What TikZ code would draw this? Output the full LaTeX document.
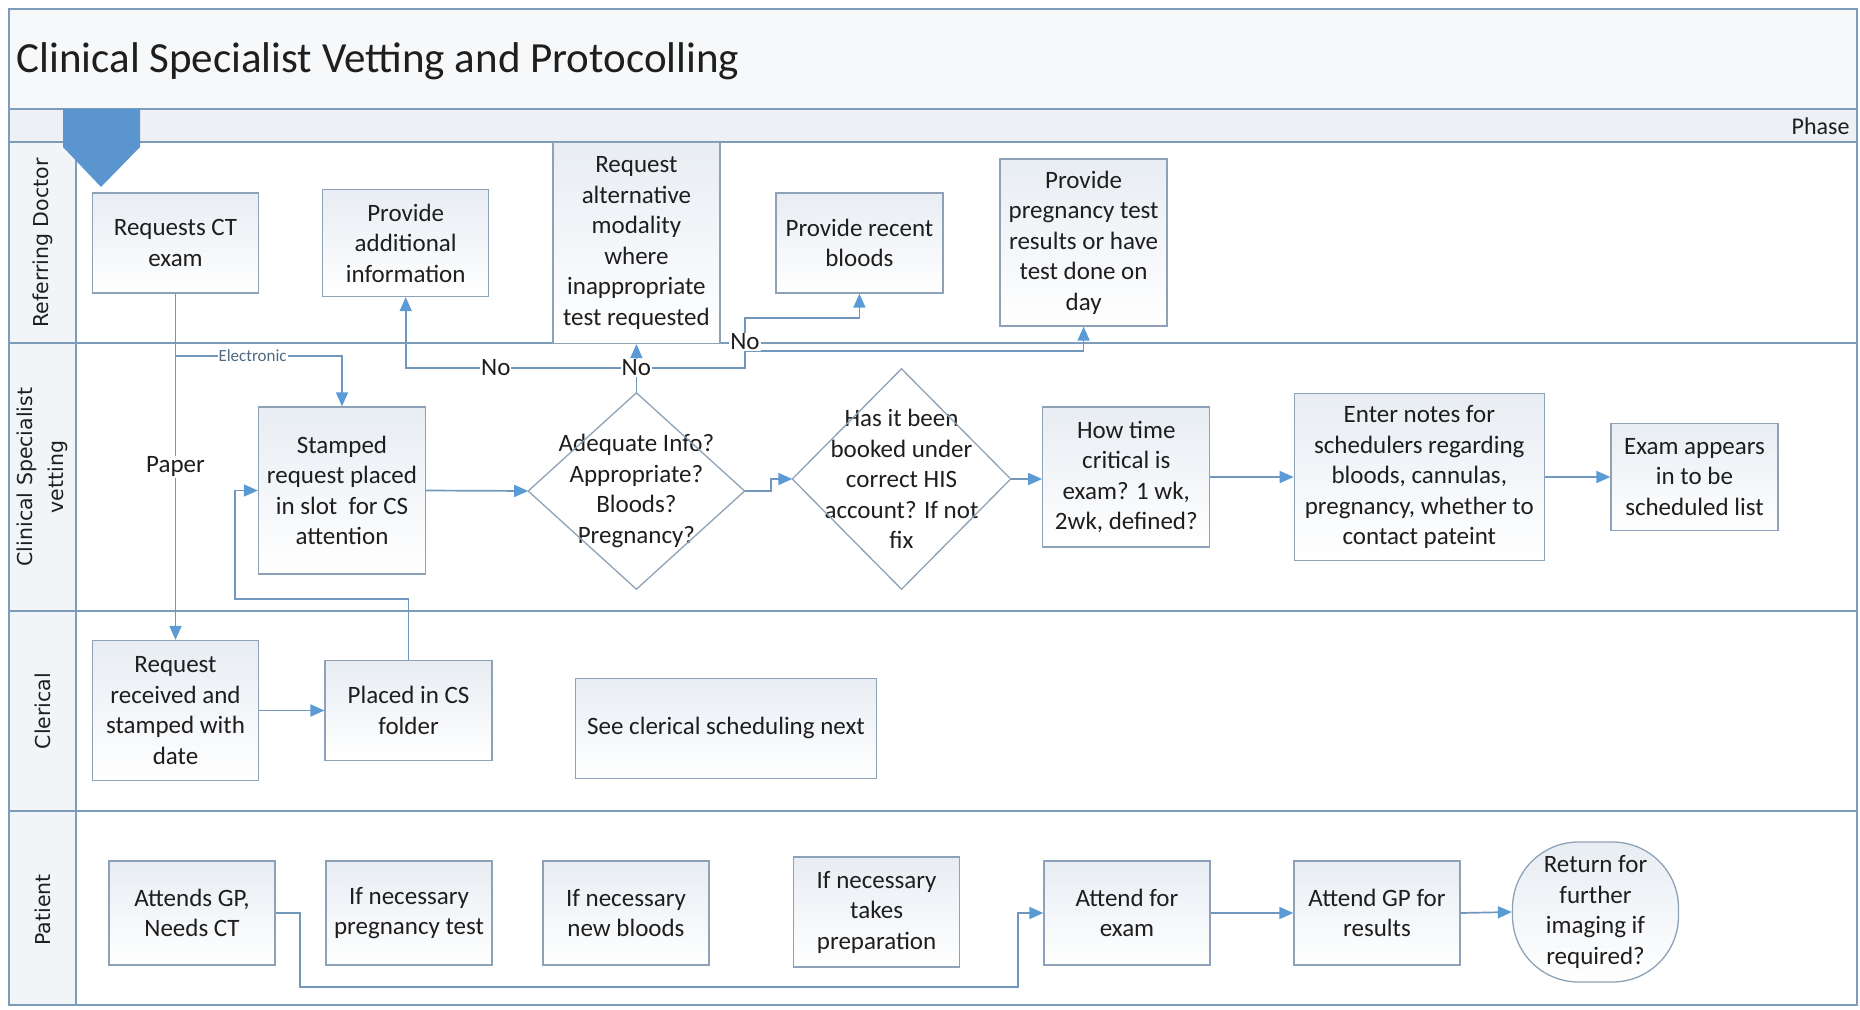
\documentclass[tikz,border=0pt]{standalone}
\usepackage{fontspec}
\setmainfont{Carlito}
\newfontfamily\lanefont{DejaVu Sans}
\usetikzlibrary{arrows.meta,shapes.geometric}

\definecolor{laneline}{HTML}{7D9BBA}
\definecolor{boxline}{HTML}{8DA2B7}
\definecolor{conn}{HTML}{7197BC}
\definecolor{arrowblue}{HTML}{5B9BD5}
\definecolor{marker}{HTML}{5B95D0}
\definecolor{titlefill}{HTML}{F6F8FA}
\definecolor{phasefill}{HTML}{EDF1F5}
\definecolor{labelfill}{HTML}{F2F5F8}
\definecolor{boxtop}{HTML}{E8EDF3}
\definecolor{txt}{HTML}{1E1E1E}

\begin{document}
\begin{tikzpicture}[x=1pt,y=-1pt,
  box/.style={draw=boxline, line width=1.3pt, top color=boxtop, bottom color=white,
    text=txt, align=center, inner sep=2pt, font=\fontsize{25}{30.5}\selectfont},
  dtext/.style={inner sep=0pt, text=txt, align=center, font=\fontsize{25}{30.5}\selectfont},
  diam/.style={draw=boxline, line width=1.3pt},
  lane/.style={draw=laneline, line width=2.2pt},
  line/.style={draw=conn, line width=1.7pt},
  conn/.style={draw=conn, line width=1.7pt, -{Triangle[length=14pt,width=12pt,color=arrowblue]}},
  lbl/.style={fill=white, inner sep=1pt, text=txt, font=\fontsize{25}{30}\selectfont},
  elbl/.style={fill=white, inner sep=1pt, text=conn!70!black, font=\fontsize{17}{20}\selectfont},
  lanelab/.style={rotate=90, text=txt, align=center, font=\lanefont\fontsize{20.5}{31}\selectfont}
]
\useasboundingbox (0,0) rectangle (1860,1009);

% pool background and lane frame
\fill[titlefill] (9,9) rectangle (1857,109);
\fill[phasefill] (9,109) rectangle (1857,142);
\fill[labelfill] (9,142) rectangle (76,1005);
\draw[lane] (9,109) -- (1857,109);
\draw[lane] (9,142) -- (1857,142);
\draw[lane] (9,343) -- (1857,343);
\draw[lane] (9,611) -- (1857,611);
\draw[lane] (9,811) -- (1857,811);
\draw[lane] (76,142) -- (76,1005);
\draw[lane] (9,9) rectangle (1857,1005);

\node[anchor=west, text=txt, font=\fontsize{43}{50}\selectfont] (title) at (13,61)
  {Clinical Specialist Vetting and Protocolling};
\node[anchor=east, text=txt, font=\fontsize{24}{28}\selectfont] (phase) at (1853,126) {Phase};

% phase marker
\fill[marker] (63,109) -- (140,109) -- (140,147) -- (101,187) -- (63,147) -- cycle;

% lane titles
\node[lanelab] (lref) at (42.5,243) {Referring Doctor};
\node[lanelab] (lcs) at (42.5,477) {Clinical Specialist\\vetting};
\node[lanelab] (lcler) at (42.5,711) {Clerical};
\node[lanelab] (lpat) at (42.5,910) {Patient};

% Referring Doctor lane
\node[box, minimum width=166pt, minimum height=100pt] (reqct) at (175.5,243) {Requests CT\\exam};
\node[box, minimum width=166pt, minimum height=107pt] (addinfo) at (405.7,243) {Provide\\additional\\information};
\node[box, minimum width=167pt, minimum height=201pt] (altmod) at (636.4,243) {Request\\alternative\\modality\\where\\inappropriate\\test requested};
\node[box, minimum width=167pt, minimum height=100pt] (bloods) at (859.4,243) {Provide recent\\bloods};
\node[box, minimum width=167pt, minimum height=167pt] (pregres) at (1083.6,242.5) {Provide\\pregnancy test\\results or have\\test done on\\day};

% Clinical Specialist lane
\node[box, minimum width=167pt, minimum height=167pt] (stamped) at (342,490.5) {Stamped\\request placed\\in slot\ \ for CS\\attention};
\node[dtext, minimum width=216pt, minimum height=196pt] (d1) at (636.4,491) {Adequate Info?\\Appropriate?\\Bloods?\\Pregnancy?};
\draw[diam] (d1.north) -- (d1.east) -- (d1.south) -- (d1.west) -- cycle;
\node[dtext, minimum width=218pt, minimum height=220pt] (d2) at (901.5,479) {Has it been\\booked under\\correct HIS\\account? If not\\fix};
\draw[diam] (d2.north) -- (d2.east) -- (d2.south) -- (d2.west) -- cycle;
\node[box, minimum width=167pt, minimum height=140pt] (howtime) at (1126.3,477) {How time\\critical is\\exam? 1 wk,\\2wk, defined?};
\node[box, minimum width=250pt, minimum height=167pt] (notes) at (1419.3,477) {Enter notes for\\schedulers regarding\\bloods, cannulas,\\pregnancy, whether to\\contact pateint};
\node[box, minimum width=167pt, minimum height=107pt] (examlist) at (1694.5,477) {Exam appears\\in to be\\scheduled list};

% Clerical lane
\node[box, minimum width=166pt, minimum height=140pt] (recv) at (175.5,710.5) {Request\\received and\\stamped with\\date};
\node[box, minimum width=167pt, minimum height=100pt] (csfolder) at (408.6,710.5) {Placed in CS\\folder};
\node[box, minimum width=301pt, minimum height=100pt] (seecler) at (726,728.3) {See clerical scheduling next};

% Patient lane
\node[box, minimum width=166pt, minimum height=104pt] (attgp) at (192,913) {Attends GP,\\Needs CT};
\node[box, minimum width=166pt, minimum height=104pt] (preg) at (409,913) {If necessary\\pregnancy test};
\node[box, minimum width=166pt, minimum height=104pt] (newbl) at (626,913) {If necessary\\new bloods};
\node[box, minimum width=166pt, minimum height=110pt] (prep) at (876.6,912) {If necessary\\takes\\preparation};
\node[box, minimum width=166pt, minimum height=104pt] (attexam) at (1127,913) {Attend for\\exam};
\node[box, minimum width=166pt, minimum height=104pt] (attres) at (1377,913) {Attend GP for\\results};
\node[box, rounded corners=66pt, minimum width=166pt, minimum height=140pt] (ret) at (1595.5,912) {Return for\\further\\imaging if\\required?};

% routing points
\coordinate (ebr) at (175.5,356);
\coordinate (loopA) at (408.6,599);
\coordinate (loopB) at (235,599);
\coordinate (jog) at (771,491);
\coordinate (ntop) at (636.4,367.7);
\coordinate (nA) at (745,367.7);
\coordinate (nB) at (745,318);
\coordinate (nC) at (745,351);
\coordinate (pA) at (300,913);
\coordinate (pB) at (300,987);
\coordinate (pC) at (1018,987);

% connectors
\draw[conn] (reqct.south) -- (recv.north) node[midway, lbl] (paper) {Paper};
\draw[conn] (ebr) -| (stamped.north);
\node[elbl] (elec) at (252.6,356) {Electronic};
\draw[conn] (recv.east) -- (csfolder.west);
\draw[conn] (csfolder.north) -- (loopA) -- (loopB) |- (stamped.west);
\draw[conn] (stamped.east) -- (d1.west);
\draw[conn] (d1.east) -- (jog) |- (d2.west);
\draw[conn] (d2.east) -- (howtime.west |- d2.east);
\draw[conn] (howtime.east) -- (notes.west);
\draw[conn] (notes.east) -- (examlist.west);

\draw[line] (d1.north) -- (ntop);
\draw[conn] (ntop) -| (addinfo.south);
\draw[conn] (ntop) -- (altmod.south);
\draw[conn] (ntop) -- (nA) -- (nB) -| (bloods.south);
\draw[conn] (nC) -| (pregres.south);
\node[lbl] (no1) at (495.8,367.7) {No};
\node[lbl] (no2) at (636.4,367.7) {No};
\node[lbl] (no3) at (745,342) {No};

\draw[conn] (attgp.east) -- (pA) -- (pB) -- (pC) |- (attexam.west);
\draw[conn] (attexam.east) -- (attres.west);
\draw[conn] (attres.east) -- (ret.west);
\end{tikzpicture}
\end{document}
